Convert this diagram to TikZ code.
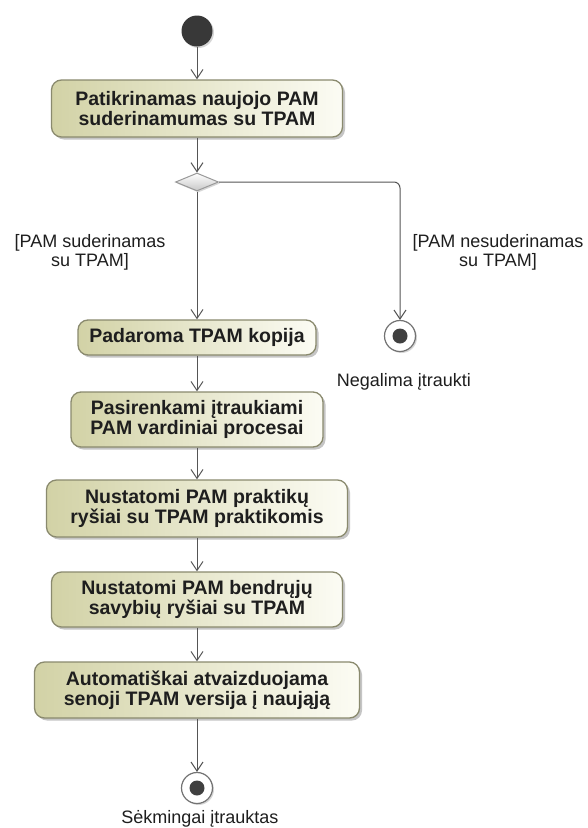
\documentclass[tikz,border=0pt]{standalone}
\usepackage{fontspec}
\setmainfont{Liberation Sans}
\usetikzlibrary{arrows.meta,shapes.geometric,shadows}
\definecolor{boxdark}{HTML}{D2D2A6}
\definecolor{boxlight}{HTML}{FCFCF4}
\definecolor{boxline}{HTML}{8A8A6E}
\definecolor{lnc}{HTML}{555555}
\definecolor{txt}{HTML}{1E1E1E}
\begin{document}
\begin{tikzpicture}[x=1pt,y=-1pt,
  act/.style={rectangle, rounded corners=10pt, draw=boxline, line width=1.3pt,
    left color=boxdark, right color=boxlight, text=txt,
    font=\fontsize{19.5}{20.5}\selectfont\bfseries, align=center, inner sep=0pt,
    drop shadow={shadow xshift=2.5pt, shadow yshift=-2.5pt, fill=black!45, opacity=0.5}},
  flow/.style={draw=lnc, line width=1pt, -{Straight Barb[length=9pt,width=12pt]}},
  initnode/.style={circle, fill=black!78, minimum size=31pt, inner sep=0pt,
    drop shadow={shadow xshift=1.5pt, shadow yshift=-1.5pt, fill=black!40, opacity=0.4}},
  finnode/.style={circle, draw=black!55, line width=1.2pt, fill=white, minimum size=31pt, inner sep=0pt,
    drop shadow={shadow xshift=1.5pt, shadow yshift=-1.5pt, fill=black!40, opacity=0.4}},
  decnode/.style={diamond, draw=black!40, line width=1pt, top color=white, bottom color=black!22,
    minimum width=43pt, minimum height=18pt, inner sep=0pt,
    drop shadow={shadow xshift=1.5pt, shadow yshift=-1.5pt, fill=black!40, opacity=0.4}},
  lbl/.style={font=\fontsize{18}{19}\selectfont, text=txt, align=center, inner sep=0pt}
]
\useasboundingbox[fill=white] (0,0) rectangle (587,828);

\node[initnode] (init) at (197,31) {};
\node[act, minimum width=291pt, minimum height=57pt] (a1) at (197,108.5)
  {Patikrinamas naujojo PAM\\suderinamumas su TPAM};
\node[decnode] (dec) at (197,182) {};
\node[act, minimum width=238pt, minimum height=35pt] (a2) at (197,337.5)
  {Padaroma TPAM kopija};
\node[finnode] (fin1) at (400,336) {};
\fill[black!75] (fin1.center) circle (7.5pt);
\node[act, minimum width=252pt, minimum height=55pt] (a3) at (197,419.5)
  {Pasirenkami įtraukiami\\PAM vardiniai procesai};
\node[act, minimum width=301pt, minimum height=57pt] (a4) at (197,508.5)
  {Nustatomi PAM praktikų\\ryšiai su TPAM praktikomis};
\node[act, minimum width=291pt, minimum height=55pt] (a5) at (197,599.5)
  {Nustatomi PAM bendrųjų\\savybių ryšiai su TPAM};
\node[act, minimum width=325pt, minimum height=56pt] (a6) at (197,690)
  {Automatiškai atvaizduojama\\senoji TPAM versija į naująją};
\node[finnode] (fin2) at (197,788) {};
\fill[black!75] (fin2.center) circle (7.5pt);

\node[lbl] (g1) at (90,252.5) {[PAM suderinamas\\su TPAM]};
\node[lbl] (g2) at (498,252.5) {[PAM nesuderinamas\\su TPAM]};
\node[lbl] (n1) at (404,382) {Negalima įtraukti};
\node[lbl] (n2) at (200,819) {Sėkmingai įtrauktas};

\draw[flow] (init) -- (a1);
\draw[flow] (a1) -- (dec);
\draw[flow] (dec) -- (a2);
\draw[flow, rounded corners=6pt] (dec.east) -| (fin1.north);
\draw[flow] (a2) -- (a3);
\draw[flow] (a3) -- (a4);
\draw[flow] (a4) -- (a5);
\draw[flow] (a5) -- (a6);
\draw[flow] (a6) -- (fin2);
\end{tikzpicture}
\end{document}
